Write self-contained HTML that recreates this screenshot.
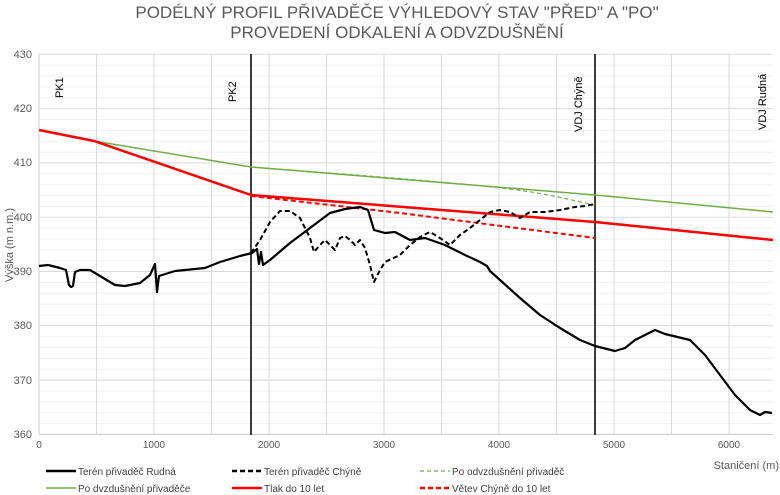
<!DOCTYPE html>
<html><head><meta charset="utf-8"><style>
body{margin:0;background:#fff;}
svg{display:block;font-family:"Liberation Sans",sans-serif;}
</style></head><body>
<svg width="780" height="495" viewBox="0 0 780 495">
<text x="397" y="18" font-size="17" fill="#595959" text-anchor="middle">PODÉLNÝ PROFIL PŘIVADĚČE VÝHLEDOVÝ STAV "PŘED" A "PO"</text>
<text x="397" y="38" font-size="17" fill="#595959" text-anchor="middle">PROVEDENÍ ODKALENÍ A ODVZDUŠNĚNÍ</text>
<g stroke="#f0f0f0" stroke-width="1">
<line x1="39" x2="773" y1="65.2" y2="65.2"/><line x1="39" x2="773" y1="76.0" y2="76.0"/><line x1="39" x2="773" y1="86.9" y2="86.9"/><line x1="39" x2="773" y1="97.8" y2="97.8"/>
<line x1="39" x2="773" y1="119.5" y2="119.5"/><line x1="39" x2="773" y1="130.4" y2="130.4"/><line x1="39" x2="773" y1="141.2" y2="141.2"/><line x1="39" x2="773" y1="152.1" y2="152.1"/>
<line x1="39" x2="773" y1="173.8" y2="173.8"/><line x1="39" x2="773" y1="184.7" y2="184.7"/><line x1="39" x2="773" y1="195.5" y2="195.5"/><line x1="39" x2="773" y1="206.4" y2="206.4"/>
<line x1="39" x2="773" y1="228.1" y2="228.1"/><line x1="39" x2="773" y1="239.0" y2="239.0"/><line x1="39" x2="773" y1="249.8" y2="249.8"/><line x1="39" x2="773" y1="260.7" y2="260.7"/>
<line x1="39" x2="773" y1="282.4" y2="282.4"/><line x1="39" x2="773" y1="293.3" y2="293.3"/><line x1="39" x2="773" y1="304.1" y2="304.1"/><line x1="39" x2="773" y1="315.0" y2="315.0"/>
<line x1="39" x2="773" y1="336.7" y2="336.7"/><line x1="39" x2="773" y1="347.6" y2="347.6"/><line x1="39" x2="773" y1="358.4" y2="358.4"/><line x1="39" x2="773" y1="369.3" y2="369.3"/>
<line x1="39" x2="773" y1="391.0" y2="391.0"/><line x1="39" x2="773" y1="401.9" y2="401.9"/><line x1="39" x2="773" y1="412.7" y2="412.7"/><line x1="39" x2="773" y1="423.6" y2="423.6"/>
</g>
<g stroke="#dadada" stroke-width="1">
<line x1="39" x2="773" y1="54.3" y2="54.3"/><line x1="39" x2="773" y1="108.6" y2="108.6"/><line x1="39" x2="773" y1="162.9" y2="162.9"/><line x1="39" x2="773" y1="217.2" y2="217.2"/><line x1="39" x2="773" y1="271.5" y2="271.5"/><line x1="39" x2="773" y1="325.8" y2="325.8"/><line x1="39" x2="773" y1="380.1" y2="380.1"/>
<line x1="96.5" x2="96.5" y1="54" y2="434"/><line x1="154" x2="154" y1="54" y2="434"/><line x1="211.5" x2="211.5" y1="54" y2="434"/><line x1="269" x2="269" y1="54" y2="434"/><line x1="326.5" x2="326.5" y1="54" y2="434"/><line x1="384" x2="384" y1="54" y2="434"/><line x1="441.5" x2="441.5" y1="54" y2="434"/><line x1="499" x2="499" y1="54" y2="434"/><line x1="556.5" x2="556.5" y1="54" y2="434"/><line x1="614" x2="614" y1="54" y2="434"/><line x1="671.5" x2="671.5" y1="54" y2="434"/><line x1="729" x2="729" y1="54" y2="434"/>
</g>
<line x1="39" x2="39" y1="54" y2="434" stroke="#d0d0d0"/>
<line x1="39" x2="773" y1="434.4" y2="434.4" stroke="#c8c8c8"/>
<g font-size="11" fill="#595959" text-anchor="end">
<text x="32" y="58">430</text><text x="32" y="112">420</text><text x="32" y="166">410</text><text x="32" y="221">400</text><text x="32" y="275">390</text><text x="32" y="329">380</text><text x="32" y="384">370</text><text x="32" y="438">360</text>
</g>
<g font-size="10" fill="#595959" text-anchor="middle">
<text x="39" y="448">0</text><text x="154" y="448">1000</text><text x="269" y="448">2000</text><text x="384" y="448">3000</text><text x="499" y="448">4000</text><text x="614" y="448">5000</text><text x="729" y="448">6000</text>
</g>
<text x="13" y="245" font-size="11" fill="#595959" text-anchor="middle" transform="rotate(-90 13 245)">Výška (m n.m.)</text>
<g font-size="11" fill="#000">
<text transform="translate(63,98) rotate(-90)">PK1</text>
<text transform="translate(236,102) rotate(-90)">PK2</text>
<text transform="translate(582,132) rotate(-90)">VDJ Chýně</text>
<text transform="translate(766,130) rotate(-90)">VDJ Rudná</text>
</g>
<line x1="251" x2="251" y1="54" y2="435" stroke="#000" stroke-width="1.5"/>
<line x1="595" x2="595" y1="54" y2="435" stroke="#000" stroke-width="1.5"/>
<polyline fill="none" stroke="#70ad47" stroke-width="1.5" points="94,141 251,167 595,195 773,212"/>
<path fill="none" stroke="#70ad47" stroke-width="1.2" stroke-dasharray="4,3" d="M251,167 C330,173 440,181 510,189 C550,194 575,201 595,205"/>
<polyline fill="none" stroke="#ff0000" stroke-width="2.5" points="39,130 94,141 251,195 595,222 773,240"/>
<polyline fill="none" stroke="#ff0000" stroke-width="2" stroke-dasharray="5,3" points="251,196 400,213 595,238"/>
<polyline fill="none" stroke="#000" stroke-width="2.2" stroke-linejoin="round" points="39,266 48,265 60,268 66,270 69,285 71,287 73,286 75,272 80,270 90,270 100,276 115,285 125,286 140,283 150,275 155,264 157,292 159,276 175,271 205,268 220,262 240,256 252,253 257,249 259,264 261,252 263,265 270,260 290,243 310,228 330,213 345,209 360,207 368,210 374,230 385,233 395,232 410,240 425,238 445,245 465,255 480,262 487,266 490,271 500,280 520,298 540,315 560,328 580,340 595,346 615,351 625,348 635,340 655,330 665,334 690,340 705,355 720,375 735,395 750,410 760,415 765,412 772,413"/>
<polyline fill="none" stroke="#000" stroke-width="2" stroke-dasharray="5,3" stroke-linejoin="round" points="251,253 260,240 270,222 280,211 290,211 300,218 310,238 314,252 320,245 325,240 330,245 335,250 340,238 345,236 350,240 355,245 360,240 365,248 370,265 374,282 380,270 385,262 400,255 410,245 420,237 430,232 440,238 450,245 460,235 470,228 480,220 490,212 500,210 510,212 520,218 530,212 545,212 560,210 575,207 585,206 595,204"/>
<g font-size="10" fill="#404040">
<line x1="46" x2="76" y1="471" y2="471" stroke="#000" stroke-width="2.5"/><text x="78" y="475">Terén přivaděč Rudná</text>
<line x1="232" x2="262" y1="471" y2="471" stroke="#000" stroke-width="2.5" stroke-dasharray="5,3"/><text x="264" y="475">Terén přivaděč Chýně</text>
<line x1="420" x2="450" y1="471" y2="471" stroke="#70ad47" stroke-width="1.2" stroke-dasharray="4,3"/><text x="452" y="475">Po odvzdušnění přivaděč</text>
<line x1="46" x2="76" y1="488" y2="488" stroke="#70ad47" stroke-width="1.5"/><text x="78" y="492">Po dvzdušnění přivaděče</text>
<line x1="232" x2="262" y1="488" y2="488" stroke="#ff0000" stroke-width="2.5"/><text x="264" y="492">Tlak do 10 let</text>
<line x1="420" x2="450" y1="488" y2="488" stroke="#ff0000" stroke-width="2.5" stroke-dasharray="5,3"/><text x="452" y="492">Větev Chýně do 10 let</text>
<text x="779" y="469" font-size="11" fill="#595959" text-anchor="end">Staničení (m)</text>
</g>
</svg>
</body></html>
